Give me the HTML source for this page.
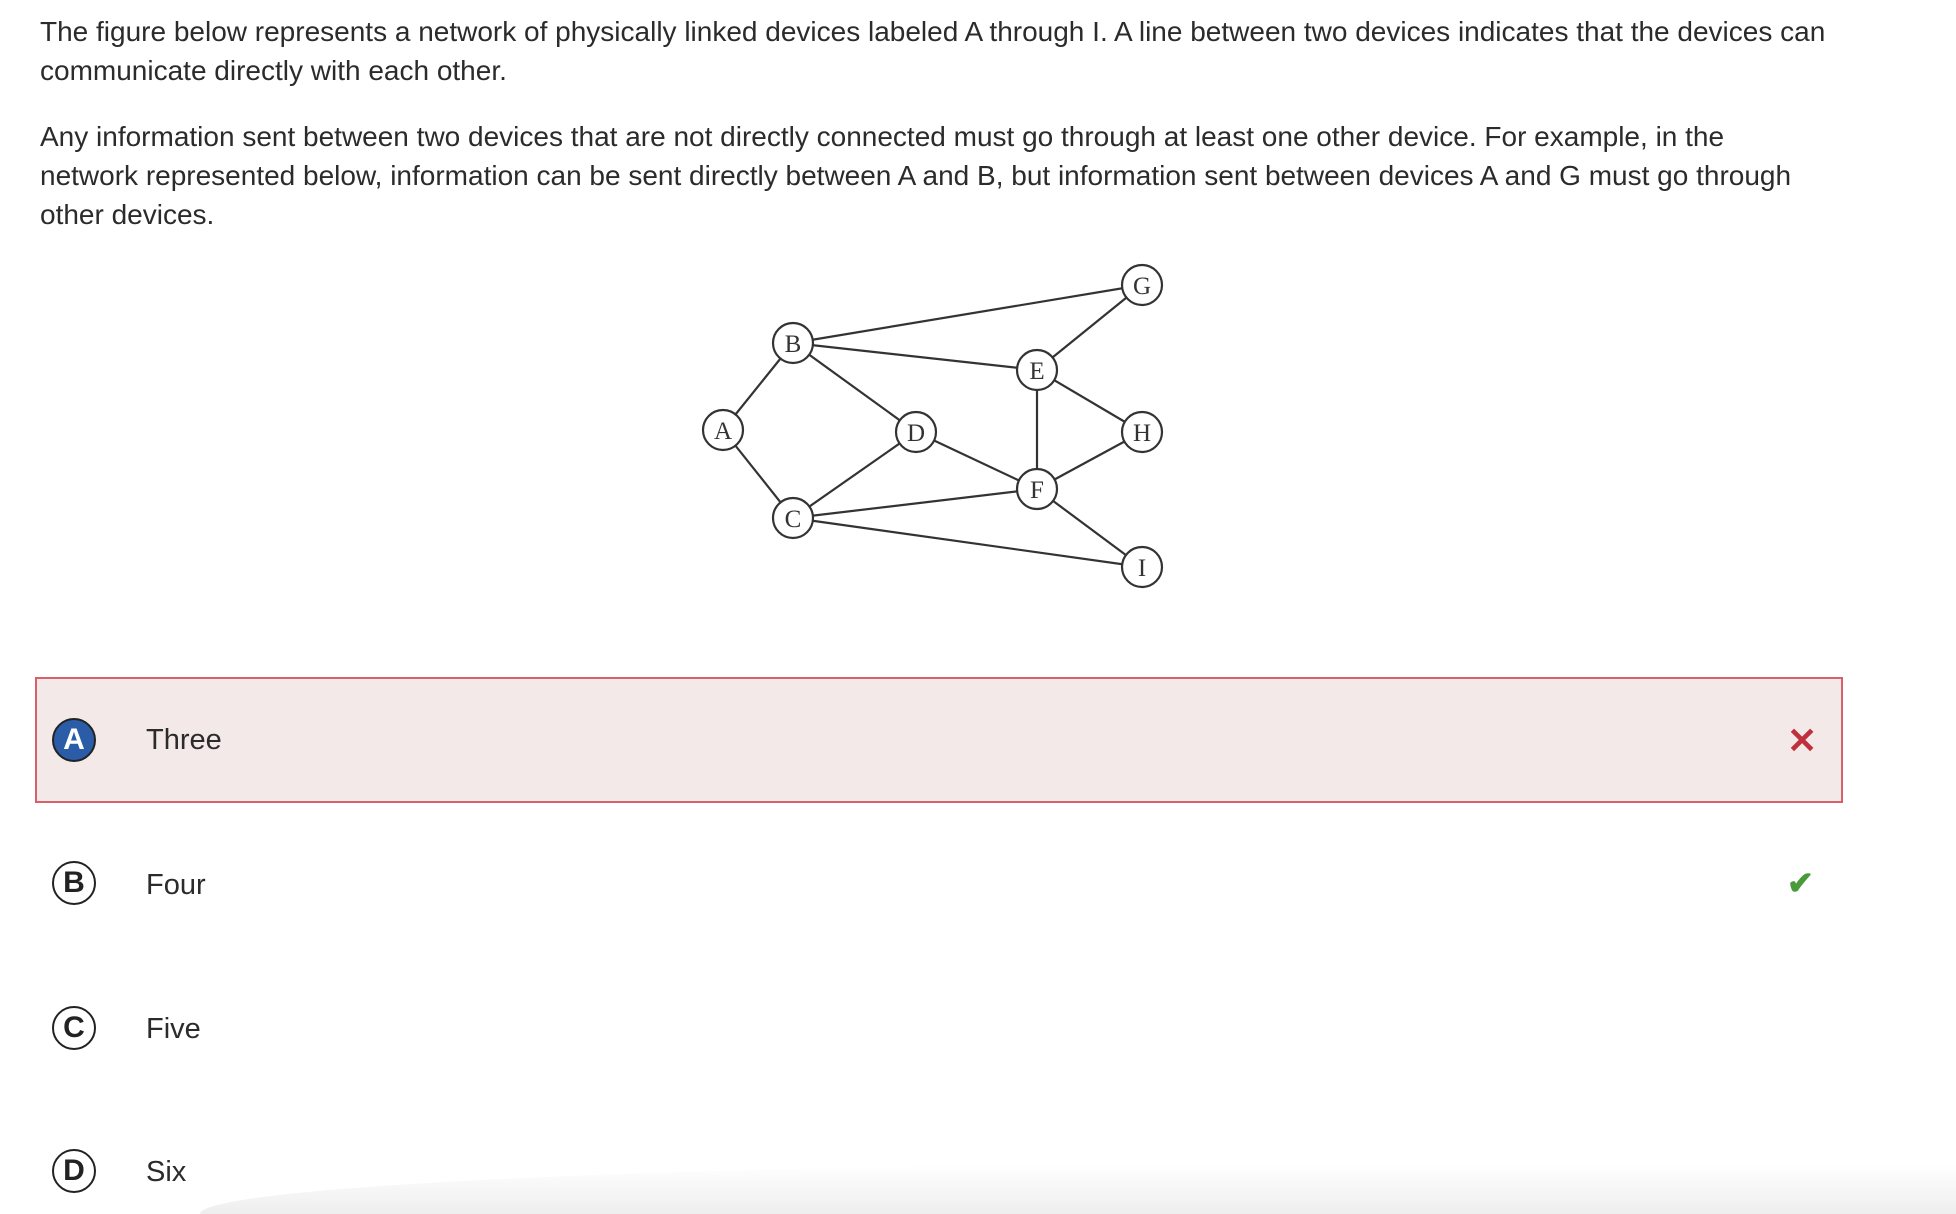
<!DOCTYPE html>
<html><head><meta charset="utf-8"><style>
body{margin:0;width:1956px;height:1214px;background:#fff;position:relative;overflow:hidden;font-family:"Liberation Sans",sans-serif;color:#2b2b2b}
.p{position:absolute;left:40px;font-size:28px;line-height:39px;white-space:nowrap}
.box{position:absolute;left:35px;top:677px;width:1808px;height:126px;background:#f4e9e9;border:2px solid #d9606a;box-sizing:border-box}
.c{position:absolute;left:52px;width:44px;height:44px;border:2.5px solid #222;border-radius:50%;box-sizing:border-box;text-align:center;font-weight:bold;font-size:30px;line-height:39px;color:#222}
.t{position:absolute;left:146px;font-size:29px;line-height:34px}
.shade{position:absolute;left:200px;right:0;bottom:0;height:50px;background:linear-gradient(to bottom,rgba(245,245,245,0),rgba(238,238,238,1));border-radius:60% 0 0 0/100% 0 0 0}
</style></head><body>
<div class="p" style="top:12px">The figure below represents a network of physically linked devices labeled A through I. A line between two devices indicates that the devices can<br>communicate directly with each other.</div>
<div class="p" style="top:117px">Any information sent between two devices that are not directly connected must go through at least one other device. For example, in the<br>network represented below, information can be sent directly between A and B, but information sent between devices A and G must go through<br>other devices.</div>
<svg style="position:absolute;left:0;top:0" width="1956" height="600">
<g stroke="#333" stroke-width="2.2" fill="none">
<line x1="723" y1="430" x2="793" y2="343"/><line x1="723" y1="430" x2="793" y2="518"/>
<line x1="793" y1="343" x2="1142" y2="285"/><line x1="793" y1="343" x2="1037" y2="370"/><line x1="793" y1="343" x2="916" y2="432"/>
<line x1="793" y1="518" x2="916" y2="432"/><line x1="793" y1="518" x2="1037" y2="489"/><line x1="793" y1="518" x2="1142" y2="567"/>
<line x1="916" y1="432" x2="1037" y2="489"/>
<line x1="1037" y1="370" x2="1142" y2="285"/><line x1="1037" y1="370" x2="1142" y2="432"/><line x1="1037" y1="370" x2="1037" y2="489"/>
<line x1="1037" y1="489" x2="1142" y2="432"/><line x1="1037" y1="489" x2="1142" y2="567"/>
</g>
<g stroke="#333" stroke-width="2.2" fill="#fff">
<circle cx="723" cy="430" r="20"/><circle cx="793" cy="343" r="20"/><circle cx="793" cy="518" r="20"/>
<circle cx="916" cy="432" r="20"/><circle cx="1037" cy="370" r="20"/><circle cx="1037" cy="489" r="20"/>
<circle cx="1142" cy="285" r="20"/><circle cx="1142" cy="432" r="20"/><circle cx="1142" cy="567" r="20"/>
</g>
<g font-family="'Liberation Serif',serif" font-size="25" fill="#333" text-anchor="middle">
<text x="723" y="439">A</text><text x="793" y="352">B</text><text x="793" y="527">C</text>
<text x="916" y="441">D</text><text x="1037" y="379">E</text><text x="1037" y="498">F</text>
<text x="1142" y="294">G</text><text x="1142" y="441">H</text><text x="1142" y="576">I</text>
</g>
<rect x="1100" y="589" width="90" height="11" fill="#fff"/>
</svg>
<div class="shade"></div>
<div class="box"></div>
<div class="c" style="top:718px;background:#2a5ca8;color:#fff">A</div>
<div class="t" style="top:723px">Three</div>
<div style="position:absolute;left:1787px;top:720px;font-size:36px;color:#c0303c;font-weight:bold">✕</div>
<div class="c" style="top:861px">B</div>
<div class="t" style="top:868px">Four</div>
<div style="position:absolute;left:1787px;top:864px;font-size:32px;color:#4a9a3a;font-weight:bold">✔</div>
<div class="c" style="top:1006px">C</div>
<div class="t" style="top:1012px">Five</div>
<div class="c" style="top:1149px">D</div>
<div class="t" style="top:1155px">Six</div>
</body></html>
